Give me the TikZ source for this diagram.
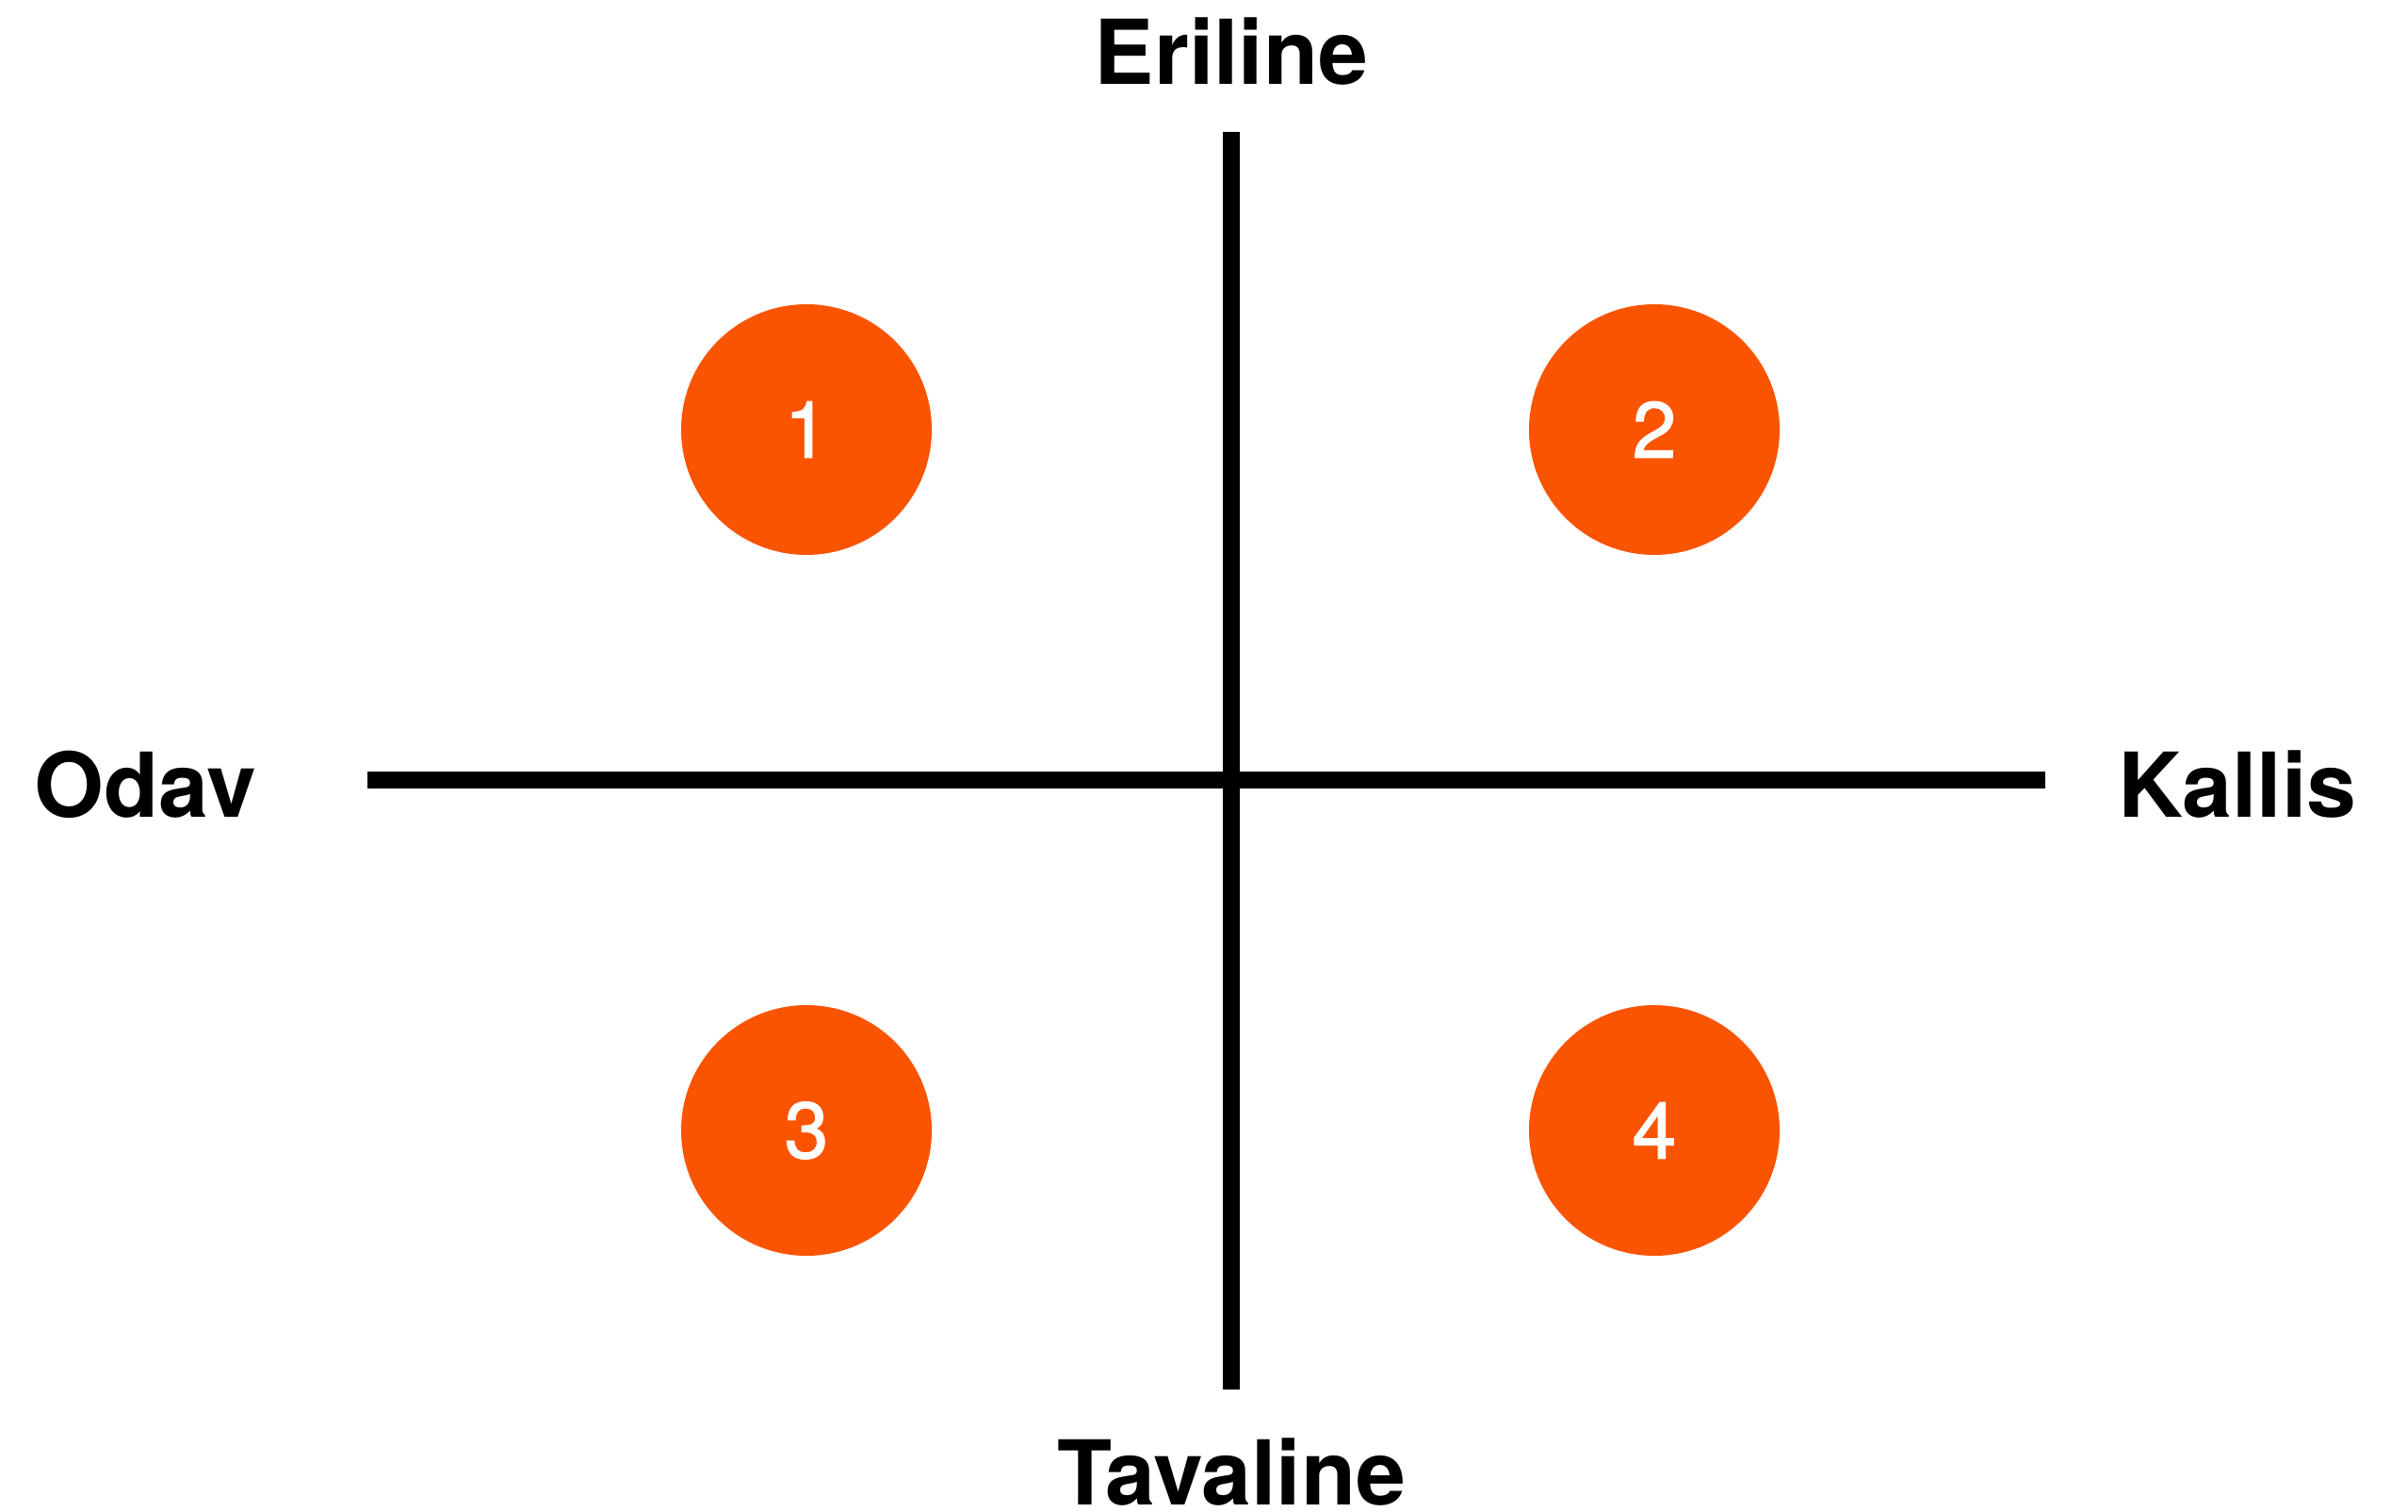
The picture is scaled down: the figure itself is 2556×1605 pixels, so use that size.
\documentclass[tikz,border=0pt]{standalone}
\usepackage{fontspec}
\setmainfont{TeX Gyre Heros}
\newfontfamily\numfont[FakeBold=1.5]{TeX Gyre Heros}
\definecolor{dotorange}{RGB}{250,84,0}
\begin{document}
\begin{tikzpicture}[x=1pt,y=-1pt,
  axis/.style={line width=18pt, draw=black, line cap=butt},
  dot/.style={circle, fill=dotorange, minimum size=266pt, inner sep=0pt,
    text=white, font=\numfont\fontsize{84}{90}\selectfont},
  axlabel/.style={inner sep=0pt, anchor=base, font=\bfseries\fontsize{95}{100}\selectfont}]
\useasboundingbox[fill=white] (0,0) rectangle (2556,1605);
\coordinate (top) at (1307,140);
\coordinate (bot) at (1307,1475);
\coordinate (lft) at (390,828);
\coordinate (rgt) at (2171,828);
\draw[axis] (top) -- (bot);
\draw[axis] (lft) -- (rgt);
\node[dot] (d1) at (856,456) {1};
\node[dot] (d2) at (1756,456) {2};
\node[dot] (d3) at (856,1200) {3};
\node[dot] (d4) at (1756,1200) {4};
\node[axlabel] (er) at (1307,90) {Eriline};
\node[axlabel] (ta) at (1307,1597) {\raisebox{0pt}[\height][0pt]{Tavaline}};
\node[axlabel] (od) at (154,867) {Odav};
\node[axlabel] (ka) at (2375,867) {Kallis};
\end{tikzpicture}
\end{document}
